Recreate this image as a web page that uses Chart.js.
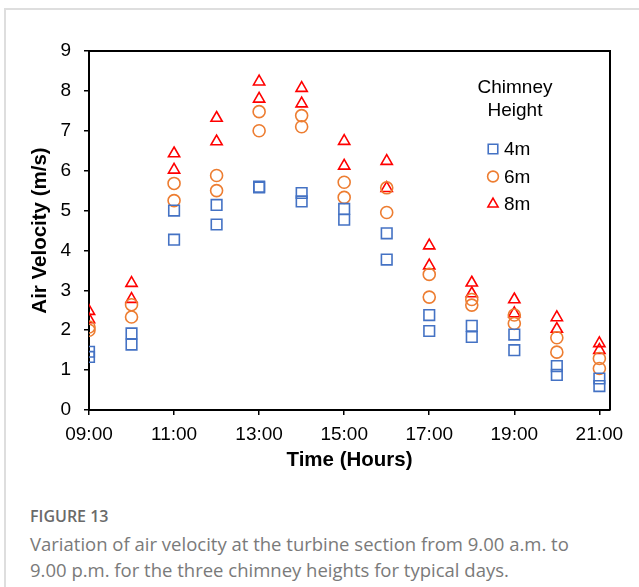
<!DOCTYPE html>
<html lang="en">
<head>
    <meta charset="UTF-8">
    <title>Figure 13 - Air velocity</title>
    <script src="https://cdn.jsdelivr.net/npm/chart.js@4.4.8/dist/chart.umd.js"></script>
    <style>
        body { margin: 0; background: #fff; overflow: hidden; }
        #frame { position: absolute; left: 4px; top: 8px; width: 700px; height: 700px;
                 border: 2px solid #dedede; box-sizing: border-box; }
        #wrap { position: absolute; left: 0; top: 0; width: 639px; height: 480px; }
        #caption { position: absolute; left: 30px; top: 505px; width: 605px;
                   font-family: "Open Sans", sans-serif; color: #7a7a7a; }
        #caption .fig { font-size: 16px; font-weight: 600; color: #6a6a6a; line-height: 22px; }
        #caption .txt { font-size: 18.5px; line-height: 26px; margin-top: 4px; white-space: nowrap; }
    </style>
</head>
<body>
    <div id="frame"></div>
    <div id="wrap"><canvas id="velocityChart"></canvas></div>
    <div id="caption">
        <div class="fig">FIGURE 13</div>
        <div class="txt">Variation of air velocity at the turbine section from 9.00 a.m. to<br>9.00 p.m. for the three chimney heights for typical days.</div>
    </div>
    <script>
        // hour of day, two readings per hour for each chimney height
        const hours = [9, 10, 11, 12, 13, 14, 15, 16, 17, 18, 19, 20, 21];
        const tickHours = [9, 11, 13, 15, 17, 19, 21];
        const yTicks = [0, 1, 2, 3, 4, 5, 6, 7, 8, 9];

        const h4High = [1.46, 1.92, 5.00, 5.14, 5.60, 5.44, 5.04, 4.43, 2.38, 2.11, 1.89, 1.10, 0.79];
        const h4Low  = [1.33, 1.64, 4.27, 4.65, 5.58, 5.23, 4.77, 3.77, 1.98, 1.83, 1.50, 0.88, 0.60];
        const h6High = [2.08, 2.64, 5.68, 5.88, 7.48, 7.38, 5.71, 5.57, 3.40, 2.77, 2.38, 1.81, 1.29];
        const h6Low  = [2.00, 2.33, 5.25, 5.50, 7.00, 7.10, 5.33, 4.95, 2.83, 2.63, 2.17, 1.45, 1.04];
        const h8High = [2.48, 3.18, 6.43, 7.32, 8.23, 8.07, 6.74, 6.24, 4.12, 3.19, 2.77, 2.32, 1.67];
        const h8Low  = [2.27, 2.78, 6.02, 6.73, 7.80, 7.68, 6.12, 5.56, 3.62, 2.92, 2.42, 2.03, 1.50];

        const legendTitle = ['Chimney', 'Height'];
        const seriesNames = ['4m', '6m', '8m'];

        function points(a, b) {
            const out = [];
            hours.forEach((h, i) => {
                out.push({ x: h, y: a[i] });
                out.push({ x: h, y: b[i] });
            });
            return out;
        }

        const FONT = "'Liberation Sans', Arial, sans-serif";

        // plot box + legend written inside the plot area
        const boxAndLegend = {
            id: 'boxAndLegend',
            afterDraw(chart) {
                const ctx = chart.ctx;
                const a = chart.chartArea;
                ctx.save();
                ctx.strokeStyle = '#000';
                ctx.lineWidth = 2;
                ctx.beginPath();
                ctx.moveTo(a.left, a.top);
                ctx.lineTo(a.right, a.top);
                ctx.lineTo(a.right, a.bottom);
                ctx.stroke();

                const cx = a.right - 95;
                ctx.fillStyle = '#000';
                ctx.font = '19px ' + FONT;
                ctx.textAlign = 'center';
                ctx.textBaseline = 'middle';
                ctx.fillText(legendTitle[0], cx, a.top + 37);
                ctx.fillText(legendTitle[1], cx, a.top + 60);

                ctx.textAlign = 'left';
                chart.data.datasets.forEach((ds, i) => {
                    const y = a.top + 98 + i * 27.5;
                    const mx = cx - 22;
                    ctx.save();
                    ctx.strokeStyle = ds.borderColor;
                    ctx.fillStyle = 'rgba(0,0,0,0)';
                    ctx.lineWidth = ds.borderWidth;
                    Chart.helpers.drawPoint(ctx, {
                        pointStyle: ds.pointStyle,
                        radius: ds.pointRadius * 0.9,
                        rotation: 0,
                        borderWidth: ds.borderWidth
                    }, mx, y);
                    ctx.restore();
                    ctx.fillStyle = '#000';
                    ctx.fillText(seriesNames[i], mx + 11, y + 1);
                });
                ctx.restore();
            }
        };

        const ctx = document.getElementById('velocityChart').getContext('2d');
        new Chart(ctx, {
            type: 'scatter',
            data: {
                datasets: [
                    { label: seriesNames[0], data: points(h4High, h4Low), pointStyle: 'rect',
                      pointRadius: 7.5, borderColor: '#4472C4', backgroundColor: 'rgba(0,0,0,0)', borderWidth: 1.6 },
                    { label: seriesNames[1], data: points(h6High, h6Low), pointStyle: 'circle',
                      pointRadius: 6, borderColor: '#ED7D31', backgroundColor: 'rgba(0,0,0,0)', borderWidth: 1.6 },
                    { label: seriesNames[2], data: points(h8High, h8Low), pointStyle: 'triangle',
                      pointRadius: 6.5, borderColor: '#FF0000', backgroundColor: 'rgba(0,0,0,0)', borderWidth: 1.6 }
                ]
            },
            options: {
                responsive: true,
                maintainAspectRatio: false,
                animation: false,
                layout: { padding: { top: 51, right: 29, left: 0, bottom: 0 } },
                plugins: { legend: { display: false }, tooltip: { enabled: false } },
                scales: {
                    x: {
                        type: 'linear',
                        min: 9,
                        max: 21.25,
                        afterBuildTicks: s => { s.ticks = tickHours.map(v => ({ value: v })); },
                        afterFit: s => { s.height = 70; },
                        ticks: {
                            color: '#000', padding: 8, maxRotation: 0, autoSkip: false,
                            font: { family: FONT, size: 19 },
                            callback: v => String(v).padStart(2, '0') + ':00'
                        },
                        grid: { drawOnChartArea: false, drawTicks: true, tickLength: 5, tickColor: '#000', lineWidth: 1.5 },
                        border: { color: '#000', width: 2 },
                        title: { display: true, text: 'Time (Hours)', color: '#000',
                                 font: { family: FONT, size: 20.5, weight: 'bold' }, padding: { top: 0, bottom: 7 } }
                    },
                    y: {
                        min: 0,
                        max: 9,
                        afterBuildTicks: s => { s.ticks = yTicks.map(v => ({ value: v })); },
                        afterFit: s => { s.width = 89; },
                        ticks: { color: '#000', padding: 13, font: { family: FONT, size: 19 } },
                        grid: { drawOnChartArea: false, drawTicks: true, tickLength: 5, tickColor: '#000', lineWidth: 1.5 },
                        border: { color: '#000', width: 2 },
                        title: { display: true, text: 'Air Velocity (m/s)', color: '#000',
                                 font: { family: FONT, size: 20.5, weight: 'bold' }, padding: { top: 28, bottom: 0 } }
                    }
                }
            },
            plugins: [boxAndLegend]
        });
    </script>
</body>
</html>
